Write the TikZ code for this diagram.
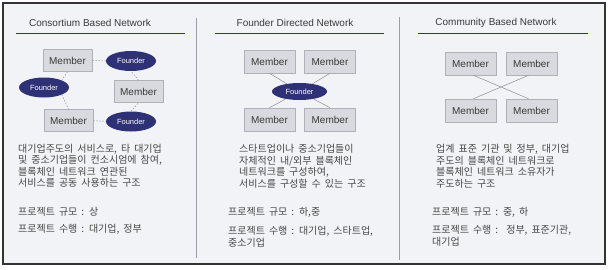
\documentclass[tikz,border=0pt]{standalone}
\usepackage{fontspec}
\setmainfont{Liberation Sans}
\newfontfamily\kr[WordSpace=1.8]{Noto Sans CJK KR}
\usetikzlibrary{shapes.geometric}
\definecolor{bg}{HTML}{F2F3F7}
\definecolor{navy}{HTML}{2E3175}
\definecolor{memfill}{HTML}{D8DADF}
\definecolor{memline}{HTML}{AEB1B8}
\definecolor{sepc}{HTML}{9A9EAA}
\definecolor{txt}{HTML}{3A3A3A}
\definecolor{ktxt}{HTML}{474747}
\definecolor{lnk}{HTML}{8C8F96}
\begin{document}
\begin{tikzpicture}[x=1pt,y=-1pt,
 member/.style={draw=memline, fill=memfill, line width=0.6pt, minimum width=49pt, minimum height=22pt, inner sep=0pt, font=\fontsize{10}{12}\selectfont, text=txt},
 bigmember/.style={member, minimum width=51pt, minimum height=23pt},
 founder/.style={ellipse, fill=navy, minimum width=50pt, minimum height=20pt, inner sep=0pt, font=\fontsize{7.5}{9}\selectfont, text=white},
 dlink/.style={draw=lnk, line width=0.5pt, dash pattern=on 1.5pt off 1.5pt},
 slink/.style={draw=lnk, line width=0.5pt},
 title/.style={font=\fontsize{10}{12}\selectfont, text=txt},
 uline/.style={draw=navy, line width=1pt},
 sepline/.style={draw=sepc, line width=0.8pt},
 body/.style={font=\kr\fontsize{10}{11.5}\selectfont, text=ktxt, align=left, inner sep=0pt, anchor=north west},
 oneline/.style={font=\kr\fontsize{10}{11.5}\selectfont, text=ktxt, inner sep=0pt, anchor=west},
]
\useasboundingbox (0,0) rectangle (610,270);
\fill[white] (0,0) rectangle (610,270);
\draw[fill=bg, draw=black!80, line width=1.4pt] (3,3) rectangle (605,264);

% titles and rules
\node[title] (t1) at (90,23) {Consortium Based Network};
\node[title] (t2) at (295,23) {Founder Directed Network};
\node[title] (t3) at (496,23) {Community Based Network};
\draw[uline] (16,34) -- (185,34);
\draw[uline] (215,34) -- (384,34);
\draw[uline] (418,34) -- (588,34);
\draw[sepline] (196,18) -- (196,258);
\draw[sepline] (399,17) -- (399,260);

% panel 1
\node[member] (m11) at (67.5,60.5) {Member};
\node[founder] (f11) at (131,61) {Founder};
\node[founder] (f12) at (44,87.5) {Founder};
\node[member] (m12) at (138.5,91.5) {Member};
\node[member] (m13) at (68.5,120.5) {Member};
\node[founder] (f13) at (131,121.5) {Founder};
\draw[dlink] (m11) -- (f11);
\draw[dlink] (m11.south) -- (f12.north east);
\draw[dlink] (f12.south east) -- (m13.north);
\draw[dlink] (m13) -- (f13);
\draw[dlink] (f13.north) -- (m12.south);
\draw[dlink] (m12.north) -- (f11.south);

% panel 2
\node[bigmember] (m21) at (269.5,61.5) {Member};
\node[bigmember] (m22) at (330,61.5) {Member};
\node[founder, minimum width=55pt, minimum height=17pt] (f2) at (299.5,91.5) {Founder};
\node[bigmember] (m23) at (269.5,119.5) {Member};
\node[bigmember] (m24) at (330,119.5) {Member};
\draw[slink] (m21.south) -- (f2);
\draw[slink] (m22.south) -- (f2);
\draw[slink] (m23.north) -- (f2);
\draw[slink] (m24.north) -- (f2);

% panel 3
\node[bigmember] (m31) at (470.5,63.5) {Member};
\node[bigmember] (m32) at (531.5,63.5) {Member};
\node[bigmember] (m33) at (470.5,110.5) {Member};
\node[bigmember] (m34) at (531.5,110.5) {Member};
\draw[slink] ([xshift=3pt]m31.south) -- ([xshift=-3pt]m34.north);
\draw[slink] ([xshift=-3pt]m32.south) -- ([xshift=3pt]m33.north);

% texts panel 1
\node[body] (d1) at (18,144) {대기업주도의 서비스로, 타 대기업\\및 중소기업들이 컨소시엄에 참여,\\블록체인 네트워크 연관된\\서비스를 공동 사용하는 구조};
\node[oneline] (s1) at (18,212) {프로젝트 규모 : 상};
\node[oneline] (p1) at (18,229) {프로젝트 수행 : 대기업, 정부};

% texts panel 2
\node[body] (d2) at (239,144.5) {스타트업이나 중소기업들이\\자체적인 내/외부 블록체인\\네트워크를 구성하여,\\서비스를 구성할 수 있는 구조};
\node[oneline] (s2) at (228,212) {프로젝트 규모 : 하,중};
\node[body] (p2) at (228,226.5) {프로젝트 수행 : 대기업, 스타트업,\\중소기업};

% texts panel 3
\node[body] (d3) at (436,144.5) {업계 표준 기관 및 정부, 대기업\\주도의 블록체인 네트워크로\\블록체인 네트워크 소유자가\\주도하는 구조};
\node[oneline] (s3) at (432,212) {프로젝트 규모 : 중, 하};
\node[body] (p3) at (432,225.5) {프로젝트 수행 :\ \ 정부, 표준기관,\\대기업};
\end{tikzpicture}
\end{document}
